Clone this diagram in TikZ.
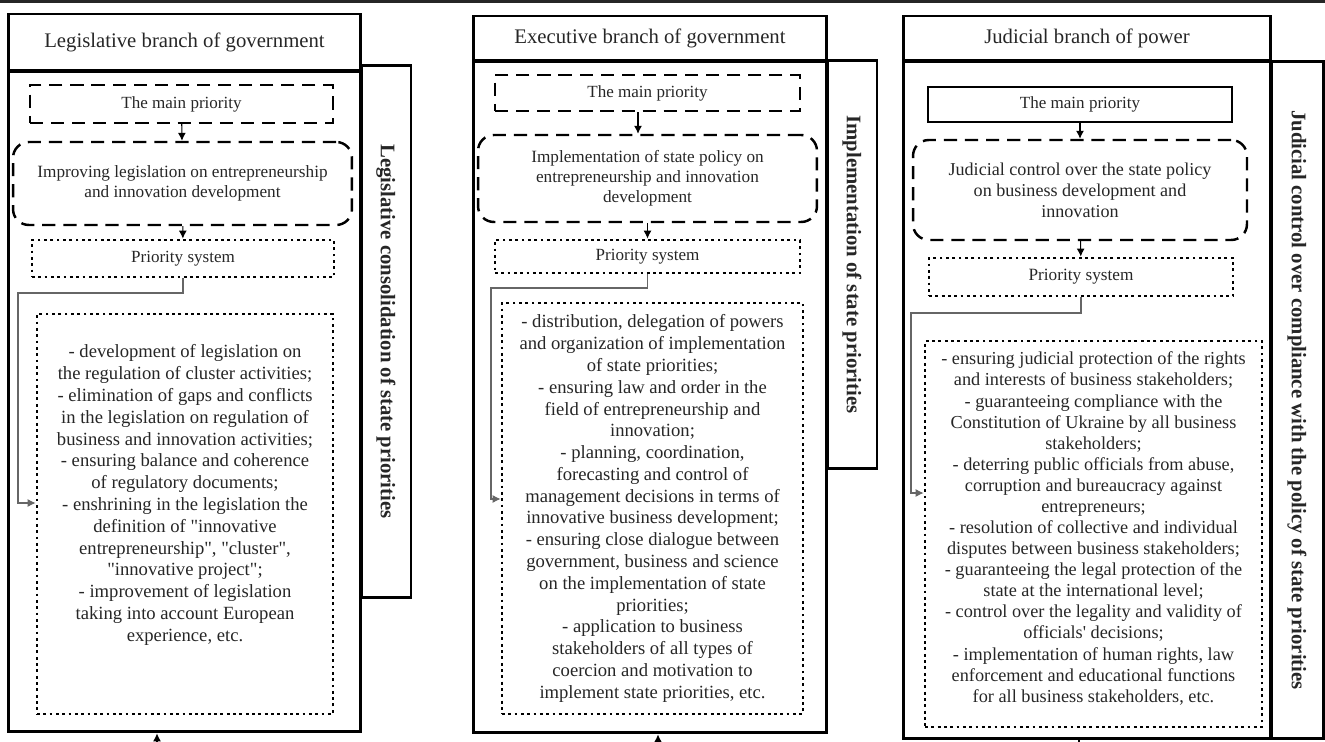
\documentclass[tikz,border=0pt]{standalone}
\usepackage{fontspec}
\setmainfont{Liberation Serif}
\usetikzlibrary{arrows.meta,positioning}

\begin{document}
\begin{tikzpicture}[x=0.02cm,y=-0.02cm,
  every node/.style={text=black!85, inner sep=0pt},
  frame/.style={draw, line width=1.7pt},
  headbox/.style={frame, font=\fontsize{11.8}{14}\selectfont},
  sidebox/.style={frame, rotate=-90, font=\fontsize{11.8}{14}\selectfont\bfseries},
  dashbox/.style={draw, line width=1.4pt, dash pattern=on 7.5pt off 4.5pt, font=\fontsize{9.7}{11.5}\selectfont},
  goalbox/.style={dashbox, rounded corners=9pt, align=center, font=\fontsize{9.8}{11.4}\selectfont},
  dotbox/.style={draw, line width=1.6pt, dash pattern=on 1.6pt off 2pt, font=\fontsize{9.7}{11.5}\selectfont},
  listtext/.style={align=center, font=\fontsize{10.6}{12.4}\selectfont},
  flowarrow/.style={-{Latex[length=4.5pt,width=4.5pt]}, line width=0.6pt},
  link/.style={-{Latex[length=4.5pt,width=4.5pt]}, line width=0.6pt, draw=black!60}
]
\useasboundingbox (0,0) rectangle (1325,742);
\fill[black!85] (0,0) rectangle (1325,3);

% legislative branch
\node[headbox, minimum width=7.06cm, minimum height=1.14cm] (ltitle) at (184.5,42.5) {Legislative branch of government};
\node[frame, minimum width=7.06cm, minimum height=13.22cm] (lmain) at (184.5,401.5) {};
\node[sidebox, minimum width=10.66cm, minimum height=1cm] (lside) at (386,331.5) {Legislative consolidation of state priorities};
\node[dashbox, minimum width=6.06cm, minimum height=0.76cm] (lprio) at (181.5,104) {The main priority};
\node[goalbox, minimum width=6.78cm, minimum height=1.66cm] (lgoal) at (182.5,183.5) {Improving legislation on entrepreneurship\\and innovation development};
\node[dotbox, minimum width=6.04cm, minimum height=0.74cm] (lsys) at (183,258.5) {Priority system};
\node[dotbox, minimum width=5.92cm, minimum height=8cm] (llist) at (185,514) {};
\node[listtext] (ltext) at ([yshift=0.38cm]llist.center) {- development of legislation on\\the regulation of cluster activities;\\- elimination of gaps and conflicts\\in the legislation on regulation of\\business and innovation activities;\\- ensuring balance and coherence\\of regulatory documents;\\- enshrining in the legislation the\\definition of \textquotedbl innovative\\entrepreneurship\textquotedbl, \textquotedbl cluster\textquotedbl,\\\textquotedbl innovative project\textquotedbl;\\- improvement of legislation\\taking into account European\\experience, etc.};
\coordinate (lbend) at (18,293);
\coordinate (lbot) at (157,742);
\draw[flowarrow] (lprio) -- (lgoal);
\draw[flowarrow] (lgoal) -- (lsys);
\draw[link] (lsys.south) |- (lbend) |- ([yshift=0.22cm]llist.west);
\draw[flowarrow] (lbot) -- (lbot |- lmain.south);

% executive branch
\node[headbox, minimum width=7.08cm, minimum height=0.9cm] (etitle) at (650,38.5) {Executive branch of government};
\node[frame, minimum width=7.08cm, minimum height=13.44cm] (emain) at (650,397) {};
\node[sidebox, minimum width=8.18cm, minimum height=1cm] (eside) at (852,264.5) {Implementation of state priorities};
\node[dashbox, minimum width=6.1cm, minimum height=0.72cm] (eprio) at (647.5,93) {The main priority};
\node[goalbox, minimum width=6.78cm, minimum height=1.74cm] (egoal) at (647.5,178.5) {Implementation of state policy on\\entrepreneurship and innovation\\development};
\node[dotbox, minimum width=6.1cm, minimum height=0.66cm] (esys) at (647.5,256.5) {Priority system};
\node[dotbox, minimum width=6.02cm, minimum height=8.22cm] (elist) at (652.5,508.5) {};
\node[listtext] (etext) at (elist.center) {- distribution, delegation of powers\\and organization of implementation\\of state priorities;\\- ensuring law and order in the\\field of entrepreneurship and\\innovation;\\- planning, coordination,\\forecasting and control of\\management decisions in terms of\\innovative business development;\\- ensuring close dialogue between\\government, business and science\\on the implementation of state\\priorities;\\- application to business\\stakeholders of all types of\\coercion and motivation to\\implement state priorities, etc.};
\coordinate (ebend) at (491,288);
\coordinate (ebot) at (658,742);
\draw[flowarrow] ([xshift=-0.19cm]eprio.south) -- ([xshift=-0.19cm]egoal.north);
\draw[flowarrow] (egoal) -- (esys);
\draw[link] (esys.south) |- (ebend) |- ([yshift=0.19cm]elist.west);
\draw[flowarrow] (ebot) -- (ebot |- emain.south);

% judicial branch
\node[headbox, minimum width=7.36cm, minimum height=0.9cm] (jtitle) at (1087,38.5) {Judicial branch of power};
\node[frame, minimum width=7.36cm, minimum height=13.56cm] (jmain) at (1087,400) {};
\node[sidebox, minimum width=13.56cm, minimum height=1.04cm] (jside) at (1297,400) {Judicial control over compliance with the policy of state priorities};
\node[draw, line width=1.5pt, minimum width=6.08cm, minimum height=0.7cm, font=\fontsize{9.7}{11.5}\selectfont] (jprio) at (1080,104.5) {The main priority};
\node[goalbox, minimum width=6.68cm, minimum height=2cm, font=\fontsize{10.3}{12}\selectfont] (jgoal) at (1080,190) {Judicial control over the state policy\\on business development and\\innovation};
\node[dotbox, minimum width=6.08cm, minimum height=0.76cm, font=\fontsize{9.8}{11.5}\selectfont] (jsys) at (1081,277) {Priority system};
\node[dotbox, minimum width=6.74cm, minimum height=7.72cm] (jlist) at (1093.5,534) {};
\node[listtext, font=\fontsize{10.4}{12}\selectfont] (jtext) at ([yshift=0.11cm]jlist.center) {- ensuring judicial protection of the rights\\and interests of business stakeholders;\\- guaranteeing compliance with the\\Constitution of Ukraine by all business\\stakeholders;\\- deterring public officials from abuse,\\corruption and bureaucracy against\\entrepreneurs;\\- resolution of collective and individual\\disputes between business stakeholders;\\- guaranteeing the legal protection of the\\state at the international level;\\- control over the legality and validity of\\officials\textquotesingle\ decisions;\\- implementation of human rights, law\\enforcement and educational functions\\for all business stakeholders, etc.};
\coordinate (jbend) at (911,313);
\coordinate (jbot) at (1079,745);
\draw[flowarrow] (jprio) -- (jgoal);
\draw[flowarrow] (jgoal) -- (jsys);
\draw[link] (jsys.south) |- (jbend) |- ([yshift=0.82cm]jlist.west);
\draw[line width=0.6pt] (jbot) -- (jbot |- jmain.south);
\end{tikzpicture}
\end{document}
